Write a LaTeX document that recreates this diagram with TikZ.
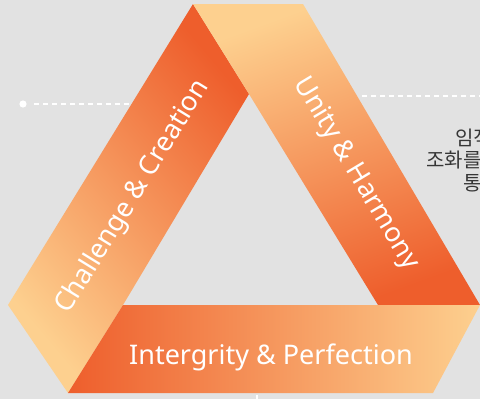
\documentclass[tikz,border=0pt]{standalone}
\usepackage{fontspec}
\newfontfamily\engfont{Noto Sans}
\newfontfamily\korfont{Noto Sans CJK KR}
\definecolor{bggray}{HTML}{E2E2E2}
\definecolor{lite}{HTML}{FDD08F}
\definecolor{darko}{HTML}{EE5E2C}
\definecolor{txtgray}{HTML}{363636}
\tikzset{
  bandtext/.style={text=white, font=\engfont\fontsize{27}{30}\selectfont, inner sep=0pt},
  kortext/.style={text=txtgray, font=\korfont\fontsize{20}{23}\selectfont, inner sep=0pt, anchor=west},
  dotline/.style={white, line width=1.8pt, dash pattern=on 5pt off 4pt},
}
\begin{document}
\begin{tikzpicture}[x=1pt,y=-1pt]
\fill[bggray] (0,0) rectangle (480,399);
\useasboundingbox (0,0) rectangle (480,399);
\clip (0,0) rectangle (480,399);

% dotted leader lines
\fill[white] (23,104) circle (3.6pt);
\coordinate (ldot) at (23,104);
\coordinate (lend) at (130,104);
\draw[dotline] ([xshift=11pt]ldot) -- (lend);
\coordinate (rstart) at (362,96);
\coordinate (rend) at (482,96);
\draw[dotline] (rstart) -- (rend);

% Korean text (cut at right edge)
\node[kortext] (k1) at (455,138) {임직원};
\node[kortext] (k2) at (426,160) {조화를};
\node[kortext] (k3) at (463,183) {통};

% left band
\shade[top color=darko, bottom color=lite, shading angle=-50]
  (193,4) -- (249,94) -- (123,305) -- (68,393) -- (8,305) -- cycle;
% right band
\shade[top color=lite, bottom color=darko, shading angle=20]
  (193,4) -- (303,4) -- (480,305) -- (378,305) -- (249,94) -- cycle;
% bottom band
\shade[left color=darko, right color=lite]
  (123,305) -- (480,305) -- (433,393) -- (68,393) -- cycle;

% small white tick at bottom
\draw[white, line width=1.5pt] (257,395) -- (257,399);

% labels
\node[bandtext, rotate=58.5] (cc) at (133,197) {Challenge \& Creation};
\node[bandtext, rotate=-59] (uh) at (356,174) {Unity \& Harmony};
\node[bandtext, anchor=base] (ip) at (271,364) {Intergrity \& Perfection};
\end{tikzpicture}
\end{document}
